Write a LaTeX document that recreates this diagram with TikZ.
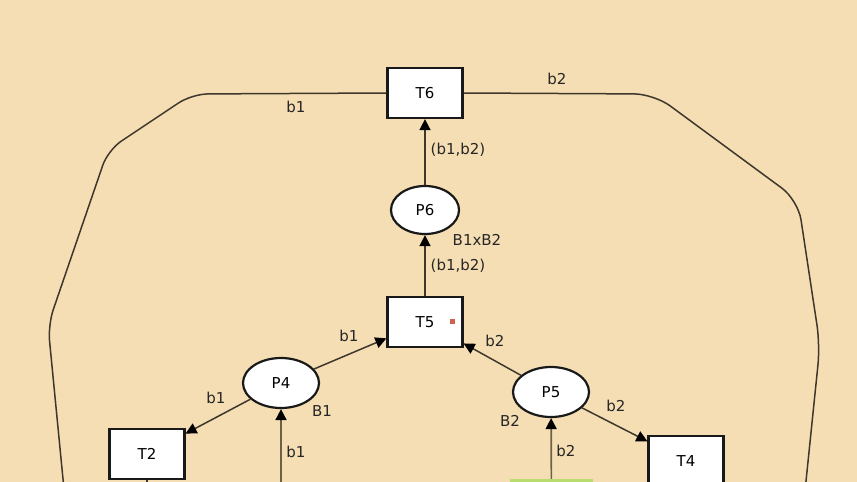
\documentclass[tikz,border=0pt]{standalone}
\usepackage{fontspec}
\setmainfont{DejaVu Sans}
\usetikzlibrary{shapes.geometric,arrows.meta}
\definecolor{bg}{RGB}{245,222,179}
\definecolor{edgecol}{RGB}{62,55,44}
\definecolor{vertcol}{RGB}{110,95,72}
\definecolor{grn}{RGB}{185,220,110}
\definecolor{dotred}{RGB}{208,98,80}
\begin{document}
\begin{tikzpicture}[x=1pt,y=-1pt,
  trans/.style={draw=black!90,line width=2.2pt,fill=white,minimum width=75pt,minimum height=50pt,inner sep=0pt,font=\fontsize{15}{18}\selectfont},
  place/.style={ellipse,draw=black!90,line width=2.2pt,fill=white,minimum width=76pt,minimum height=50pt,inner sep=0pt,font=\fontsize{15}{18}\selectfont},
  lbl/.style={font=\fontsize{15}{18}\selectfont,inner sep=0pt,text=black!85},
  arcline/.style={draw=edgecol,line width=1.5pt,-{Triangle[length=11pt,width=11pt,fill=black,color=black]}},
  plainline/.style={draw=edgecol,line width=1.5pt},
  vertline/.style={draw=vertcol,line width=1.7pt,-{Triangle[length=11pt,width=11pt,fill=black,color=black]}}]
\path[use as bounding box] (0,0) rectangle (857,482);
\clip (0,0) rectangle (857,482);
\fill[bg] (0,0) rectangle (857,482);

% nodes
\node[trans] (T6) at (425,93) {T6};
\node[trans] (T5) at (425,322) {T5};
\node[trans] (T2) at (147,454) {T2};
\node[trans] (T4) at (686,461) {T4};
\node[place,minimum width=68pt,minimum height=48pt] (P6) at (425,210) {P6};
\node[place] (P4) at (281,383) {P4};
\node[place] (P5) at (551,392) {P5};
\node[fill=grn,minimum width=83pt,minimum height=50pt,inner sep=0pt] (G) at (551.5,504) {};
\node[fill=dotred,minimum size=5pt,inner sep=0pt] (dot) at (452,321) {};

\coordinate (Lend) at (67,520);
\coordinate (Rend) at (802,520);
\coordinate (T2end) at (147,520);
\coordinate (P4src) at (281,520);

% outer arcs
\draw[plainline,rounded corners=16pt] (T6.west) -- (192,94) -- (108,150) -- (48,325) -- (Lend);
\draw[plainline,rounded corners=20pt] (T6.east) -- (654,94) -- (798,200) -- (820,345) -- (Rend);

% connectors
\draw[arcline] (P6) -- (T6);
\draw[arcline] (T5) -- (P6);
\draw[arcline] (P4) -- (T5);
\draw[arcline] (P5) -- (T5);
\draw[arcline] (P4) -- (T2);
\draw[arcline] (P5) -- (T4);
\draw[vertline] (P4src) -- (P4);
\draw[vertline] (G) -- (P5);
\draw[plainline] (T2) -- (T2end);

% labels
\node[lbl] (l1) at (296,107) {b1};
\node[lbl] (l2) at (557,79) {b2};
\node[lbl] (l3) at (458,150) {(b1,b2)};
\node[lbl] (l4) at (477,240) {B1xB2};
\node[lbl] (l5) at (458,266) {(b1,b2)};
\node[lbl] (l6) at (349,336) {b1};
\node[lbl] (l7) at (495,341) {b2};
\node[lbl] (l8) at (216,398) {b1};
\node[lbl] (l9) at (322,411) {B1};
\node[lbl] (l10) at (510,421) {B2};
\node[lbl] (l11) at (616,406) {b2};
\node[lbl] (l12) at (296,452) {b1};
\node[lbl] (l13) at (566,451) {b2};
\end{tikzpicture}
\end{document}
